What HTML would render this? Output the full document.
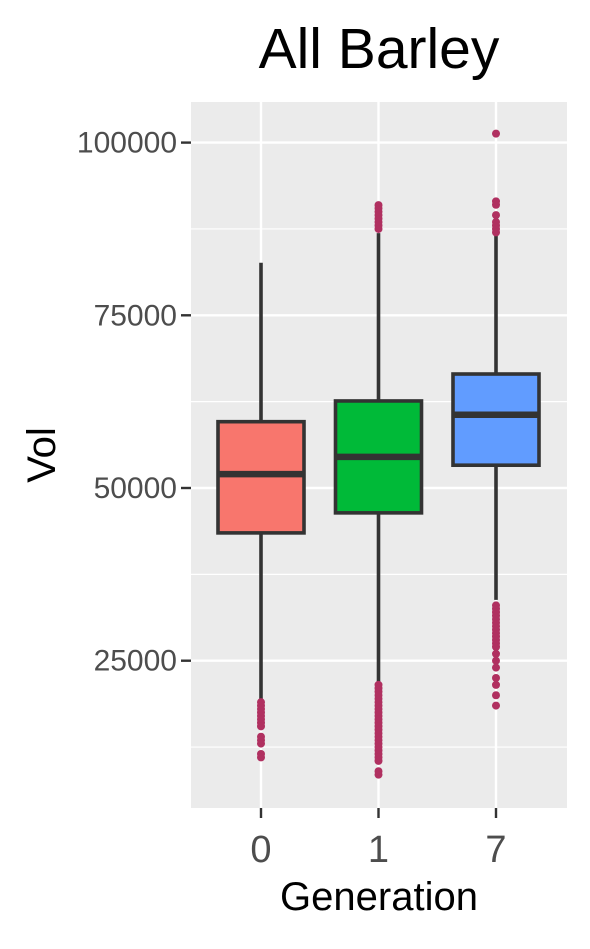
<!DOCTYPE html>
<html><head><meta charset="utf-8"><style>
body{margin:0;background:#fff;}
svg text{font-family:"Liberation Sans",sans-serif;}
</style></head><body>
<svg id="chart" width="590" height="944" xmlns="http://www.w3.org/2000/svg">
<text x="379" y="68" style="font-size:57px" text-anchor="middle" fill="#000">All Barley</text>
<rect x="191" y="102" width="376" height="706" fill="#ebebeb"/>
<g id="grid"></g>
<g id="marks"></g>
<g id="axes"></g>
<text x="379" y="910" style="font-size:40px" text-anchor="middle">Generation</text>
<text transform="translate(55,455) rotate(-90)" style="font-size:40px" text-anchor="middle">Vol</text>
</svg>
<script>
const categories = ["0","1","7"];
const fills = ["#f8766d","#00ba38","#619cff"];
const q1 = [43500, 46400, 53300];
const median = [52000, 54500, 60600];
const q3 = [59600, 62600, 66500];
const whiskerLow = [19400, 21900, 33800];
const whiskerHigh = [82600, 86900, 86600];
const outliers0 = [19000,18500,18000,17500,17000,16500,16000,15500,14000,13500,13000,11500,11000];
const outliers1 = [90950,90500,90000,89500,89000,88500,88000,87500,21500,21000,20500,20000,19500,19000,18500,18000,17500,17000,16500,16000,15500,15000,14500,14000,13500,13000,12500,12000,11500,11000,10500,9000,8500];
const outliers7 = [101300,91500,91000,89500,88500,88000,87500,87000,33000,32500,32000,31500,31000,30500,30000,29500,29000,28500,28000,27500,27000,26000,25000,24000,22500,21500,20000,18500];
const outliers = [outliers0, outliers1, outliers7];
const yTicks = [25000,50000,75000,100000];
const yMinor = [12500,37500,62500,87500];

const ns="http://www.w3.org/2000/svg";
const X0=191, X1=567;
function yScale(v){return 488-(v-50000)*172.7/25000;}
function xScale(i){return 261+i*117.5;}
function mk(tag,attrs,parent){const e=document.createElementNS(ns,tag);for(const k in attrs)e.setAttribute(k,attrs[k]);parent.appendChild(e);return e;}
const grid=document.getElementById('grid'), marks=document.getElementById('marks'), axes=document.getElementById('axes');
yMinor.forEach(v=>{const l=mk('line',{x1:X0,x2:X1,y1:yScale(v),y2:yScale(v),stroke:'#fff','stroke-width':1.2},grid);

});
yTicks.forEach(v=>{const l=mk('line',{x1:X0,x2:X1,y1:yScale(v),y2:yScale(v),stroke:'#fff','stroke-width':2.4},grid);


const t=mk('line',{x1:X0-10,x2:X0,y1:yScale(v),y2:yScale(v),stroke:'#333','stroke-width':2.4},axes);


const tx=mk('text',{x:X0-14,y:yScale(v)+10,style:'font-size:30px','text-anchor':'end',fill:'#4d4d4d'},axes);tx.textContent=v;

});
categories.forEach((c,i)=>{const x=xScale(i);
const g=mk('line',{x1:x,x2:x,y1:102,y2:808,stroke:'#fff','stroke-width':2.4},grid);


const t=mk('line',{x1:x,x2:x,y1:808,y2:818,stroke:'#333','stroke-width':2.4},axes);


const tx=mk('text',{x:x,y:862,style:'font-size:38px','text-anchor':'middle',fill:'#4d4d4d'},axes);tx.textContent=c;


const w=mk('line',{x1:x,x2:x,y1:yScale(whiskerHigh[i]),y2:yScale(whiskerLow[i]),stroke:'#333','stroke-width':3.6},marks);


const b=mk('rect',{x:x-43,width:86,y:yScale(q3[i]),height:yScale(q1[i])-yScale(q3[i]),fill:fills[i],stroke:'#333','stroke-width':3.6},marks);


const m=mk('line',{x1:x-43,x2:x+43,y1:yScale(median[i]),y2:yScale(median[i]),stroke:'#333','stroke-width':6.5},marks);


outliers[i].forEach(v=>{const p=mk('circle',{cx:x,cy:yScale(v),r:4,fill:'#b03060'},marks);

});
});
</script>
</body></html>
